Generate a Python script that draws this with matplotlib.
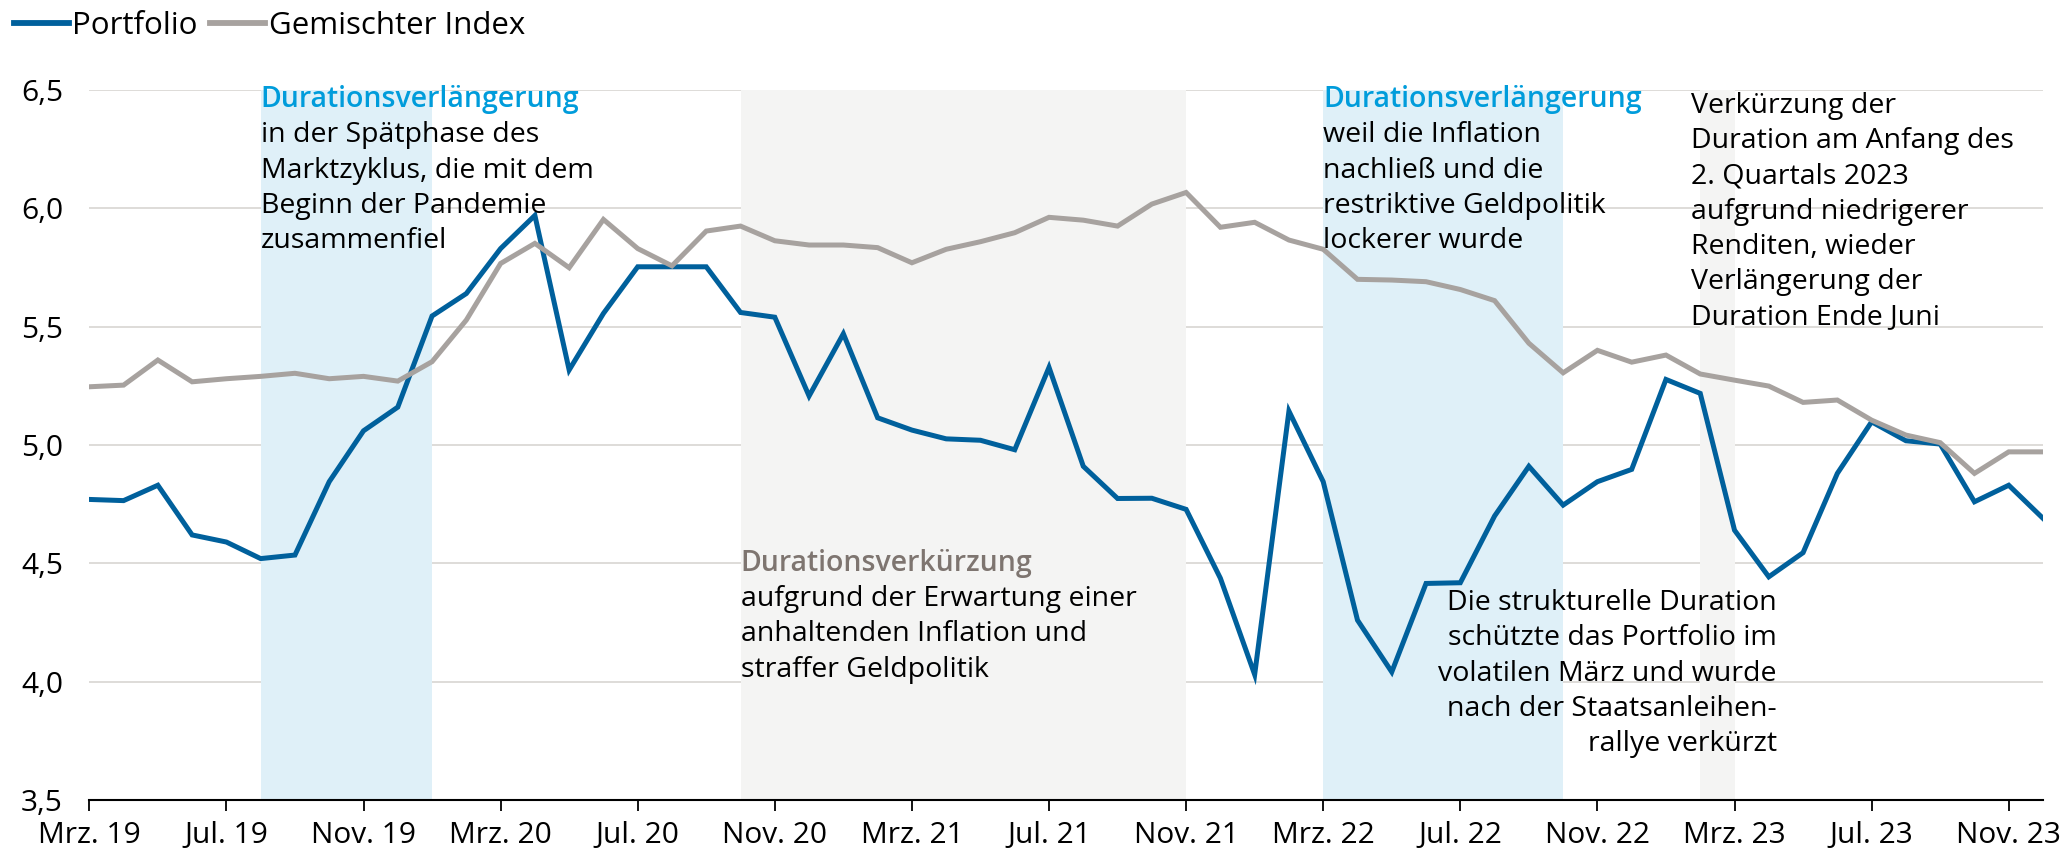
import matplotlib
matplotlib.use("Agg")
import matplotlib.pyplot as plt
from matplotlib.lines import Line2D

plt.rcParams['font.family'] = ['Open Sans', 'DejaVu Sans']

# monthly points, Mrz. 19 .. Dez. 23
portfolio = [4.77, 4.765, 4.83, 4.62, 4.59, 4.52, 4.535, 4.845, 5.06, 5.16,
             5.545, 5.64, 5.83, 5.97, 5.317, 5.556, 5.753, 5.753, 5.753, 5.56,
             5.54, 5.207, 5.47, 5.115, 5.063, 5.026, 5.02, 4.98, 5.328, 4.91,
             4.774, 4.775, 4.728, 4.437, 4.03, 5.143, 4.845, 4.26, 4.041, 4.415,
             4.418, 4.70, 4.91, 4.746, 4.845, 4.897, 5.277, 5.218, 4.64, 4.443,
             4.545, 4.88, 5.098, 5.018, 5.004, 4.76, 4.83, 4.69]
index_mix = [5.246, 5.253, 5.359, 5.267, 5.28, 5.29, 5.303, 5.28, 5.29, 5.27,
             5.352, 5.528, 5.767, 5.852, 5.749, 5.953, 5.83, 5.757, 5.904, 5.925,
             5.863, 5.845, 5.845, 5.834, 5.77, 5.827, 5.859, 5.897, 5.962, 5.95,
             5.925, 6.018, 6.067, 5.92, 5.941, 5.866, 5.827, 5.70, 5.697, 5.69,
             5.657, 5.61, 5.43, 5.305, 5.40, 5.35, 5.38, 5.30, 5.274, 5.249,
             5.18, 5.19, 5.105, 5.042, 5.01, 4.88, 4.971, 4.971]
tick_labels = ['Mrz. 19', 'Jul. 19', 'Nov. 19', 'Mrz. 20', 'Jul. 20', 'Nov. 20',
               'Mrz. 21', 'Jul. 21', 'Nov. 21', 'Mrz. 22', 'Jul. 22', 'Nov. 22',
               'Mrz. 23', 'Jul. 23', 'Nov. 23']
y_ticks = [3.5, 4.0, 4.5, 5.0, 5.5, 6.0, 6.5]

# shaded phases (month index start, end)
blue_phases = [(5, 10), (36, 43)]
gray_phases = [(19, 32), (47, 48)]

BLUE = '#00609c'
GRAY = '#a7a29f'
BAND_BLUE = '#dff0f8'
BAND_GRAY = '#f4f4f3'
HEAD_BLUE = '#009cdb'
HEAD_GRAY = '#7e7570'

fig = plt.figure(figsize=(20.69, 8.55), dpi=100)
ax = fig.add_axes([89.3 / 2069, 55 / 855, (2043 - 89.3) / 2069, 710 / 855])

x = list(range(len(portfolio)))

for a, b in blue_phases:
    ax.axvspan(a, b, color=BAND_BLUE, lw=0, zorder=1)
for a, b in gray_phases:
    ax.axvspan(a, b, color=BAND_GRAY, lw=0, zorder=1)

for v in y_ticks[1:]:
    ax.axhline(v, color='#d8d5d2', lw=1.2, zorder=0.5)

ax.plot(x, portfolio, color=BLUE, lw=3.6, zorder=3, solid_joinstyle='miter')
ax.plot(x, index_mix, color=GRAY, lw=3.6, zorder=3, solid_joinstyle='miter')

ax.set_xlim(0, len(portfolio) - 1)
ax.set_ylim(3.5, 6.5)
ax.set_xticks(range(0, 57, 4))
ax.set_xticklabels(tick_labels)
ax.set_yticks(y_ticks)
ax.set_yticklabels([f"{v:.1f}".replace('.', ',') for v in y_ticks])

for s in ['left', 'right', 'top']:
    ax.spines[s].set_visible(False)
ax.spines['bottom'].set_color('black')
ax.spines['bottom'].set_linewidth(1.5)
ax.spines['bottom'].set_zorder(4)
ax.tick_params(axis='x', length=8, width=1.3, color='black', labelsize=21.5, pad=7)
ax.tick_params(axis='y', length=0, labelsize=21.5, pad=19)

# annotations
step = 0.1488
fs = 20.5


def block(x0, y0, head, head_color, lines, ha='left'):
    y = y0
    if head:
        ax.text(x0, y, head, color=head_color, fontsize=fs, fontweight='semibold',
                ha=ha, va='baseline', zorder=5)
        y -= step
    for ln in lines:
        ax.text(x0, y, ln, color='black', fontsize=fs, ha=ha, va='baseline', zorder=5)
        y -= step


block(5.0, 6.427, 'Durationsverlängerung', HEAD_BLUE,
      ['in der Spätphase des', 'Marktzyklus, die mit dem',
       'Beginn der Pandemie', 'zusammenfiel'])
block(19.0, 4.468, 'Durationsverkürzung', HEAD_GRAY,
      ['aufgrund der Erwartung einer', 'anhaltenden Inflation und',
       'straffer Geldpolitik'])
block(36.0, 6.427, 'Durationsverlängerung', HEAD_BLUE,
      ['weil die Inflation', 'nachließ und die',
       'restriktive Geldpolitik', 'lockerer wurde'])
block(46.72, 6.402, None, None,
      ['Verkürzung der', 'Duration am Anfang des', '2. Quartals 2023',
       'aufgrund niedrigerer', 'Renditen, wieder', 'Verlängerung der',
       'Duration Ende Juni'])
block(49.23, 4.302, None, None,
      ['Die strukturelle Duration', 'schützte das Portfolio im',
       'volatilen März und wurde', 'nach der Staatsanleihen-',
       'rallye verkürzt'], ha='right')

handles = [Line2D([], [], color=BLUE, lw=4.2),
           Line2D([], [], color=GRAY, lw=4.2)]
fig.legend(handles, ['Portfolio', 'Gemischter Index'], loc='center left',
           bbox_to_anchor=(14 / 2069, 1 - 26 / 855), ncol=2, frameon=False,
           fontsize=22.5, handlelength=1.75, handletextpad=0.12,
           columnspacing=0.4, borderpad=0, borderaxespad=0)

fig.savefig('out.png', dpi=100)
